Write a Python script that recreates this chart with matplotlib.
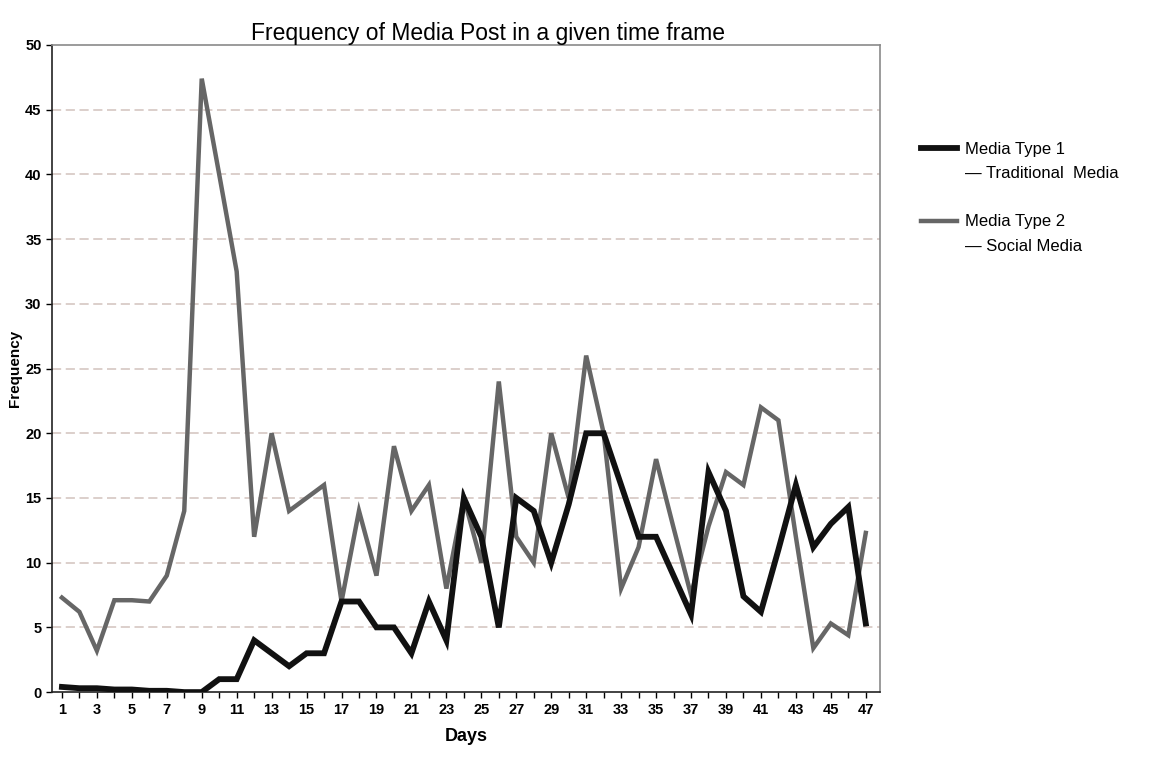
import matplotlib.pyplot as plt
from matplotlib.lines import Line2D

days = list(range(1, 48))

# Media Type 1 - Traditional Media (black)
traditional = [0.4, 0.3, 0.3, 0.2, 0.2, 0.1, 0.1, 0, 0, 1,
               1, 4, 3, 2, 3, 3, 7, 7, 5, 5,
               3, 7, 4, 15, 12, 5, 15, 14, 10, 14.5,
               20, 20, 16, 12, 12, 9, 6, 17, 14, 7.4,
               6.2, 11, 16, 11.2, 13, 14.3, 5.3]

# Media Type 2 - Social Media (grey)
social = [7.3, 6.2, 3.2, 7.1, 7.1, 7.0, 9.0, 14, 47.4, 40,
          32.5, 12, 20, 14, 15, 16, 7, 14, 9, 19,
          14, 16, 8, 15, 10, 24, 12, 10, 20, 15,
          26, 20, 8, 11.2, 18, 12.7, 7.5, 12.8, 17, 16,
          22, 21, 12, 3.4, 5.3, 4.4, 12.3]

yticks = list(range(0, 51, 5))
xlabels = list(range(1, 48, 2))

plt.rcParams['font.family'] = ['Liberation Sans', 'DejaVu Sans']

fig = plt.figure(figsize=(11.73, 7.69), dpi=100)
ax = fig.add_axes([0.0443, 0.100, 0.7057, 0.8415])

ax.plot(days, social, color='#666666', lw=3.2, solid_joinstyle='miter', zorder=3)
ax.plot(days, traditional, color='#111111', lw=4.2, solid_joinstyle='miter', zorder=4)

ax.set_xlim(0.43, 47.8)
ax.set_ylim(0, 50)
ax.set_yticks(yticks)
ax.set_xticks(xlabels)
ax.set_xticks(days, minor=True)
ax.tick_params(axis='both', labelsize=10.5, length=4, width=1, direction='out')
ax.tick_params(axis='x', which='minor', length=4, width=1)
for lab in ax.get_xticklabels() + ax.get_yticklabels():
    lab.set_fontweight('bold')

for y in yticks[1:-1]:
    ax.axhline(y, color='#d2c2bd', lw=1.1, ls=(0, (6, 3)), zorder=1)

for side in ['top', 'right']:
    ax.spines[side].set_color('#8a8a8a')
    ax.spines[side].set_linewidth(1.2)
for side in ['left', 'bottom']:
    ax.spines[side].set_color('#222222')
    ax.spines[side].set_linewidth(1.2)

ax.set_xlabel('Days', fontsize=13, fontweight='bold', labelpad=8)
ax.set_ylabel('Frequency', fontsize=11, fontweight='bold', labelpad=2)

fig.text(0.416, 0.956, 'Frequency of Media Post in a given time frame',
         ha='center', va='center', fontsize=16.5)

handles = [Line2D([], [], color='#111111', lw=4.2),
           Line2D([], [], color='none'),
           Line2D([], [], color='none'),
           Line2D([], [], color='#666666', lw=3.2),
           Line2D([], [], color='none')]
labels = ['Media Type 1', '\u2014 Traditional  Media', '',
          'Media Type 2', '\u2014 Social Media']
fig.legend(handles, labels, loc='upper left', bbox_to_anchor=(0.772, 0.835),
           frameon=False, fontsize=12, handlelength=2.2, handletextpad=0.45,
           labelspacing=0.55)

fig.savefig('out.png', dpi=100)
